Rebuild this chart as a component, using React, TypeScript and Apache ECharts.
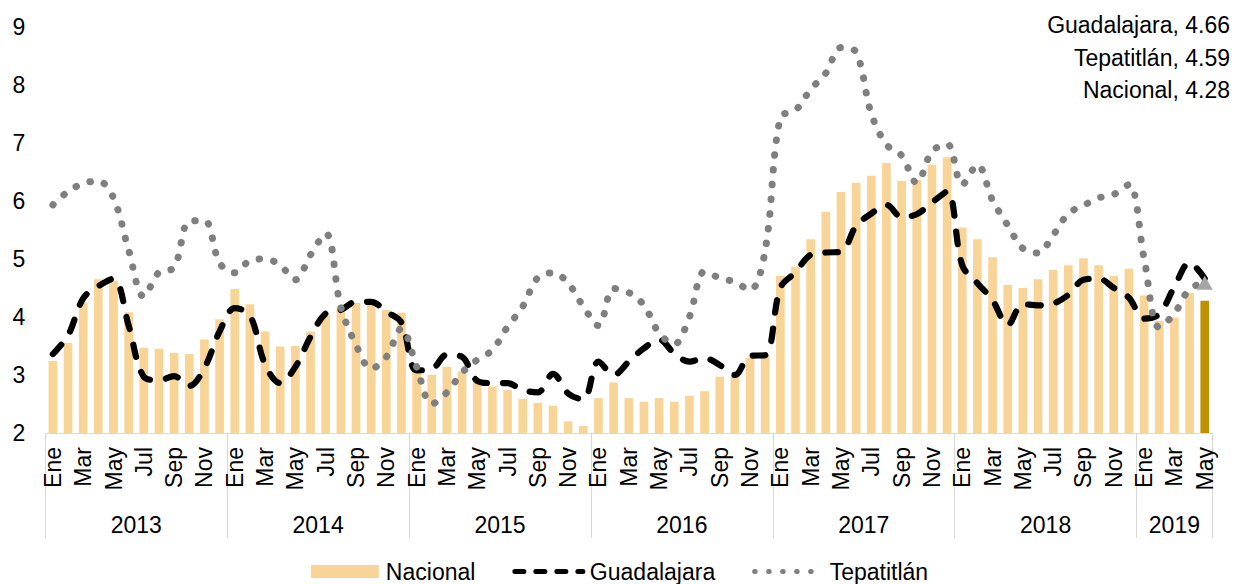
import React, { useEffect, useRef } from "react";
import * as echarts from "echarts";

// ---- data ----
const years = ["2013", "2014", "2015", "2016", "2017", "2018", "2019"];
const monthsPerYear = [12, 12, 12, 12, 12, 12, 5];
const monthNames = ["Ene", "Feb", "Mar", "Abr", "May", "Jun", "Jul", "Ago", "Sep", "Oct", "Nov", "Dic"];

const nacional = [
  3.24, 3.55, 4.25, 4.65, 4.62, 4.08, 3.47, 3.45, 3.38, 3.36, 3.61, 3.96,
  4.48, 4.22, 3.75, 3.49, 3.5, 3.75, 4.03, 4.18, 4.24, 4.26, 4.12, 4.07,
  3.07, 3.0, 3.14, 3.06, 2.91, 2.8, 2.74, 2.59, 2.52, 2.47, 2.2, 2.12,
  2.6, 2.87, 2.6, 2.54, 2.6, 2.54, 2.64, 2.72, 2.97, 2.97, 3.3, 3.34,
  4.71, 4.86, 5.34, 5.81, 6.15, 6.31, 6.43, 6.65, 6.34, 6.36, 6.62, 6.75,
  5.54, 5.34, 5.03, 4.55, 4.5, 4.65, 4.81, 4.89, 5.01, 4.89, 4.71, 4.83,
  4.37, 3.93, 3.99, 4.41, 4.28,
];

const guadalajara = [
  3.36, 3.68, 4.32, 4.53, 4.66, 3.85, 2.97, 2.91, 2.98, 2.81, 3.12, 3.75,
  4.15, 4.03, 3.18, 2.86, 3.14, 3.66, 4.06, 4.12, 4.26, 4.26, 4.09, 3.9,
  3.08, 3.1, 3.35, 3.31, 2.9, 2.86, 2.86, 2.74, 2.7, 3.02, 2.68, 2.58,
  3.23, 3.0, 3.23, 3.46, 3.61, 3.37, 3.23, 3.29, 3.17, 3.0, 3.33, 3.34,
  4.5, 4.77, 5.07, 5.11, 5.12, 5.57, 5.78, 5.93, 5.72, 5.77, 5.97, 6.16,
  4.89, 4.58, 4.29, 3.86, 4.22, 4.2, 4.23, 4.38, 4.64, 4.66, 4.5, 4.33,
  3.97, 4.05, 4.52, 4.93, 4.66,
];

const tepatitlan = [
  5.93, 6.16, 6.3, 6.34, 6.05, 5.15, 4.35, 4.77, 4.85, 5.65, 5.66, 4.93,
  4.76, 4.97, 5.0, 4.89, 4.64, 5.07, 5.44, 4.17, 3.52, 3.11, 3.31, 3.8,
  3.14, 2.5, 2.7, 3.04, 3.26, 3.43, 3.83, 4.18, 4.68, 4.76, 4.58, 4.18,
  3.85, 4.49, 4.42, 4.2, 3.72, 3.53, 4.0, 4.78, 4.67, 4.6, 4.46, 5.15,
  7.44, 7.56, 7.92, 8.2, 8.64, 8.56, 7.5, 6.97, 6.78, 6.31, 6.85, 6.98,
  6.28, 6.62, 6.01, 5.58, 5.18, 5.1, 5.41, 5.78, 5.92, 6.05, 6.11, 6.28,
  5.01, 3.82, 4.06, 4.48, 4.59,
];

// ---- styling ----
const FONT = '"Liberation Sans", Arial, Helvetica, sans-serif';
const FS = 23;
const BAR_COLOR = "#F8D497";
const BAR_LAST = "#BF9000";
const DOT_COLOR = "#7F7F7F";
const TRI_COLOR = "#A5A5A5";

export default function App() {
  const ref = useRef<HTMLDivElement>(null);

  useEffect(() => {
    if (!ref.current) return;
    const chart = echarts.init(ref.current, undefined, { renderer: "svg" });

    const categories: string[] = [];
    const monthOf: string[] = [];
    years.forEach((y, yi) => {
      for (let m = 0; m < monthsPerYear[yi]; m++) {
        categories.push(`${y}-${m + 1}`);
        monthOf.push(monthNames[m]);
      }
    });
    const total = categories.length;
    const last = total - 1;

    const boundaries: number[] = [0];
    const centers: number[] = [];
    let acc = 0;
    monthsPerYear.forEach((n) => {
      centers.push(acc + n / 2);
      acc += n;
      boundaries.push(acc);
    });
    const yearAt = (v: number) => {
      const idx = centers.findIndex((c) => Math.abs(c - v) < 1e-6);
      return idx >= 0 ? years[idx] : "";
    };

    const textStyle = { fontFamily: FONT, fontSize: FS, color: "#000" };

    const option: any = {
      animation: false,
      textStyle: { fontFamily: FONT },
      grid: { left: 45.3, right: 26.7, top: 26.7, bottom: 151, containLabel: false },
      legend: {
        top: 555,
        left: "center",
        itemWidth: 68,
        itemHeight: 13,
        itemGap: 37,
        textStyle: { ...textStyle, padding: [0, 0, 0, 2] },
        data: [
          { name: "Nacional", icon: "rect" },
          {
            name: "Guadalajara",
            itemStyle: { opacity: 0 },
            lineStyle: { width: 5, type: [9, 12], cap: "round" },
          },
          {
            name: "Tepatitlán",
            itemStyle: { opacity: 0 },
            lineStyle: { width: 5, type: [0.5, 13.5], cap: "round" },
          },
        ],
      },
      xAxis: [
        {
          type: "category",
          data: categories,
          position: "bottom",
          boundaryGap: true,
          axisLine: { show: true, lineStyle: { color: "#D9D9D9", width: 1 } },
          axisTick: { show: false },
          axisLabel: {
            ...textStyle,
            interval: 1,
            rotate: 90,
            margin: 14,
            formatter: (_v: string, i: number) => monthOf[i],
          },
          splitLine: { show: false },
        },
        {
          type: "value",
          min: 0,
          max: total,
          position: "bottom",
          axisLine: { show: false },
          splitLine: { show: false },
          axisTick: {
            show: true,
            inside: false,
            length: 105,
            customValues: boundaries,
            lineStyle: { color: "#D9D9D9", width: 1 },
          },
          axisLabel: {
            ...textStyle,
            margin: 80,
            customValues: centers,
            formatter: (v: number) => yearAt(v),
          },
        },
      ],
      yAxis: {
        type: "value",
        min: 2,
        max: 9,
        interval: 1,
        axisLine: { show: false },
        axisTick: { show: false },
        splitLine: { show: false },
        axisLabel: { ...textStyle, margin: 20 },
      },
      series: [
        {
          name: "Nacional",
          type: "bar",
          barWidth: "57%",
          itemStyle: { color: BAR_COLOR },
          data: nacional.map((v, i) =>
            i === last ? { value: v, itemStyle: { color: BAR_LAST } } : v
          ),
        },
        {
          name: "Guadalajara",
          type: "line",
          symbol: "none",
          smooth: 0.35,
          itemStyle: { color: "#000" },
          lineStyle: { color: "#000", width: 6.2, type: [12.5, 16], cap: "round", join: "round" },
          data: guadalajara,
        },
        {
          name: "Tepatitlán",
          type: "line",
          symbol: "none",
          smooth: 0.35,
          itemStyle: { color: DOT_COLOR },
          lineStyle: { color: DOT_COLOR, width: 7, type: [0.5, 14.3], cap: "round", join: "round" },
          data: tepatitlan,
          markPoint: {
            silent: true,
            label: { show: false },
            data: [
              {
                coord: [last, tepatitlan[last]],
                symbol: "triangle",
                symbolSize: [16, 14],
                itemStyle: { color: TRI_COLOR },
              },
            ],
          },
        },
      ],
      graphic: [
        { label: `Guadalajara, ${guadalajara[last].toFixed(2)}`, y: 25 },
        { label: `Tepatitlán, ${tepatitlan[last].toFixed(2)}`, y: 58 },
        { label: `Nacional, ${nacional[last].toFixed(2)}`, y: 90 },
      ].map((t) => ({
        type: "text",
        x: 1230,
        y: t.y,
        style: {
          text: t.label,
          fontFamily: FONT,
          fontSize: FS,
          fill: "#000",
          textAlign: "right",
          textVerticalAlign: "middle",
          align: "right",
          verticalAlign: "middle",
        },
      })),
    };

    chart.setOption(option);
    return () => chart.dispose();
  }, []);

  return (
    <div
      ref={ref}
      style={{ position: "absolute", left: 0, top: 0, width: 1239, height: 584 }}
    />
  );
}
